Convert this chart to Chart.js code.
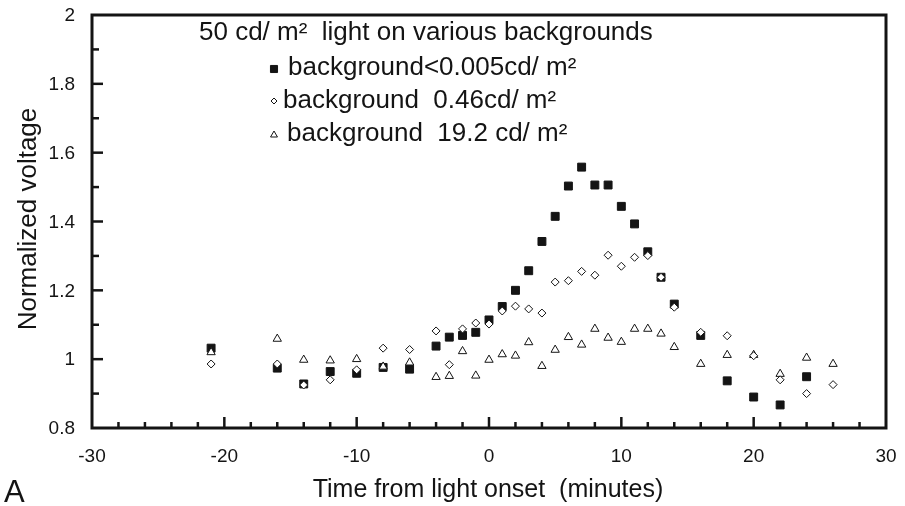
<!DOCTYPE html>
<html lang="en">
<head>
<meta charset="UTF-8">
<title>Normalized voltage vs time from light onset</title>
<script src="https://cdn.jsdelivr.net/npm/chart.js@4.4.0/dist/chart.umd.min.js"></script>
<style>
    html, body { margin: 0; padding: 0; background: #fff; }
    .chart-box { width: 905px; height: 506px; }
</style>
</head>
<body>
<div class="chart-box"><canvas id="voltChart" width="905" height="506"></canvas></div>
<script>
    // background < 0.005 cd/m2 (filled squares)
    const darkTime = [-21, -16, -14, -12, -10, -8, -6, -4, -3, -2, -1, 0, 1, 2, 3, 4, 5, 6, 7, 8, 9, 10, 11, 12, 13, 14, 16, 18, 20, 22, 24];
    const darkVolt = [1.032, 0.974, 0.928, 0.964, 0.959, 0.976, 0.971, 1.038, 1.064, 1.069, 1.078, 1.114, 1.153, 1.2, 1.257, 1.342, 1.415, 1.503, 1.558, 1.506, 1.506, 1.444, 1.393, 1.312, 1.238, 1.16, 1.069, 0.937, 0.89, 0.867, 0.949];

    // background 0.46 cd/m2 (open diamonds)
    const midTime = [-21, -16, -14, -12, -10, -8, -6, -4, -3, -2, -1, 0, 1, 2, 3, 4, 5, 6, 7, 8, 9, 10, 11, 12, 13, 14, 16, 18, 20, 22, 24, 26];
    const midVolt = [0.986, 0.986, 0.925, 0.94, 0.969, 1.032, 1.028, 1.082, 0.984, 1.088, 1.105, 1.102, 1.14, 1.154, 1.146, 1.134, 1.224, 1.228, 1.255, 1.244, 1.302, 1.27, 1.296, 1.301, 1.238, 1.151, 1.078, 1.068, 1.01, 0.94, 0.9, 0.926];

    // background 19.2 cd/m2 (open triangles)
    const brightTime = [-21, -16, -14, -12, -10, -8, -6, -4, -3, -2, -1, 0, 1, 2, 3, 4, 5, 6, 7, 8, 9, 10, 11, 12, 13, 14, 16, 18, 20, 22, 24, 26];
    const brightVolt = [1.02, 1.059, 0.998, 0.996, 1.0, 0.978, 0.99, 0.948, 0.951, 1.023, 0.952, 0.998, 1.014, 1.01, 1.049, 0.98, 1.027, 1.064, 1.042, 1.088, 1.062, 1.05, 1.088, 1.088, 1.074, 1.035, 0.986, 1.012, 1.012, 0.957, 1.004, 0.986];

    const xTickValues = [-30, -20, -10, 0, 10, 20, 30];
    const xTickLabels = ['-30', '-20', '-10', '0', '10', '20', '30'];
    const yTickValues = [0.8, 1, 1.2, 1.4, 1.6, 1.8, 2];
    const yTickLabels = ['0.8', '1', '1.2', '1.4', '1.6', '1.8', '2'];

    const titleText = '50 cd/ m\u00b2  light on various backgrounds';
    const legendLabels = ['background<0.005cd/ m\u00b2', 'background  0.46cd/ m\u00b2', 'background  19.2 cd/ m\u00b2'];

    const ink = '#141414';
    const fontFamily = '"Liberation Sans", Arial, sans-serif';

    function toPoints(xs, ys) {
        return xs.map((x, i) => ({ x: x, y: ys[i] }));
    }

    function drawMarker(ctx, style, x, y, r) {
        ctx.save();
        ctx.lineWidth = 1;
        ctx.strokeStyle = ink;
        ctx.beginPath();
        if (style === 'rect') {
            const s = Math.SQRT1_2 * r;
            ctx.rect(x - s, y - s, 2 * s, 2 * s);
            ctx.fillStyle = ink;
        } else if (style === 'rectRot') {
            ctx.moveTo(x - r, y);
            ctx.lineTo(x, y - r);
            ctx.lineTo(x + r, y);
            ctx.lineTo(x, y + r);
            ctx.closePath();
            ctx.fillStyle = '#fff';
        } else {
            const h = r * Math.sqrt(3) / 2;
            ctx.moveTo(x, y - r);
            ctx.lineTo(x + h, y + r / 2);
            ctx.lineTo(x - h, y + r / 2);
            ctx.closePath();
            ctx.fillStyle = '#fff';
        }
        ctx.fill();
        ctx.stroke();
        ctx.restore();
    }

    // frame, inward ticks, labels and the in-plot legend
    const framePlugin = {
        id: 'framePlugin',
        afterDraw(chart) {
            const ctx = chart.ctx;
            const area = chart.chartArea;
            const xs = chart.scales.x;
            const ys = chart.scales.y;

            ctx.save();
            ctx.strokeStyle = ink;
            ctx.lineWidth = 3;
            ctx.strokeRect(area.left, area.top, area.right - area.left, area.bottom - area.top);

            // x ticks every 2, long every 10
            ctx.lineWidth = 2.5;
            for (let v = -28; v <= 28; v += 2) {
                const px = xs.getPixelForValue(v);
                const len = v % 10 === 0 ? 11 : 6;
                ctx.beginPath();
                ctx.moveTo(px, area.bottom);
                ctx.lineTo(px, area.bottom - len);
                ctx.stroke();
            }
            // y ticks every 0.1, long every 0.2
            for (let k = 9; k <= 19; k++) {
                const py = ys.getPixelForValue(k / 10);
                const len = k % 2 === 0 ? 11 : 7;
                ctx.beginPath();
                ctx.moveTo(area.left, py);
                ctx.lineTo(area.left + len, py);
                ctx.stroke();
            }

            ctx.fillStyle = ink;
            ctx.font = '19px ' + fontFamily;
            ctx.textAlign = 'center';
            ctx.textBaseline = 'middle';
            xTickValues.forEach((v, i) => {
                ctx.fillText(xTickLabels[i], xs.getPixelForValue(v), 457);
            });
            ctx.textAlign = 'right';
            yTickValues.forEach((v, i) => {
                ctx.fillText(yTickLabels[i], 75, ys.getPixelForValue(v) + 1);
            });

            // axis titles
            ctx.font = '25px ' + fontFamily;
            ctx.textAlign = 'center';
            ctx.textBaseline = 'alphabetic';
            ctx.fillText('Time from light onset  (minutes)', 488, 497);
            ctx.save();
            ctx.font = '26px ' + fontFamily;
            ctx.translate(36, 219);
            ctx.rotate(-Math.PI / 2);
            ctx.fillText('Normalized voltage', 0, 0);
            ctx.restore();

            ctx.font = '31px ' + fontFamily;
            ctx.textAlign = 'left';
            ctx.fillText('A', 4, 502);

            // legend block inside the plot
            ctx.font = '26px ' + fontFamily;
            ctx.fillText(titleText, 199, 40);
            const styles = ['rect', 'rectRot', 'triangle'];
            const radii = [5, 3, 4];
            const rowY = [69, 101, 135];
            const textX = [288, 283, 287];
            const baseY = [75, 108, 141];
            legendLabels.forEach((label, i) => {
                drawMarker(ctx, styles[i], 274, rowY[i], radii[i]);
                ctx.fillStyle = ink;
                ctx.fillText(label, textX[i], baseY[i]);
            });
            ctx.restore();
        }
    };

    const ctx = document.getElementById('voltChart').getContext('2d');
    const voltChart = new Chart(ctx, {
        type: 'scatter',
        data: {
            datasets: [
                {
                    label: legendLabels[1],
                    data: toPoints(midTime, midVolt),
                    pointStyle: 'rectRot',
                    pointRadius: 4,
                    backgroundColor: '#fff',
                    borderColor: ink,
                    borderWidth: 1,
                    order: 1
                },
                {
                    label: legendLabels[2],
                    data: toPoints(brightTime, brightVolt),
                    pointStyle: 'triangle',
                    pointRadius: 4.8,
                    backgroundColor: '#fff',
                    borderColor: ink,
                    borderWidth: 1,
                    order: 2
                },
                {
                    label: legendLabels[0],
                    data: toPoints(darkTime, darkVolt),
                    pointStyle: 'rect',
                    pointRadius: 5.6,
                    backgroundColor: ink,
                    borderColor: ink,
                    borderWidth: 1,
                    order: 3
                }
            ]
        },
        options: {
            responsive: false,
            animation: false,
            devicePixelRatio: 1,
            layout: {
                padding: { left: 92, right: 19, top: 15, bottom: 78 }
            },
            scales: {
                x: { type: 'linear', min: -30, max: 30, display: false },
                y: { type: 'linear', min: 0.8, max: 2, display: false }
            },
            plugins: {
                legend: { display: false },
                tooltip: { enabled: false }
            }
        },
        plugins: [framePlugin]
    });
</script>
</body>
</html>
